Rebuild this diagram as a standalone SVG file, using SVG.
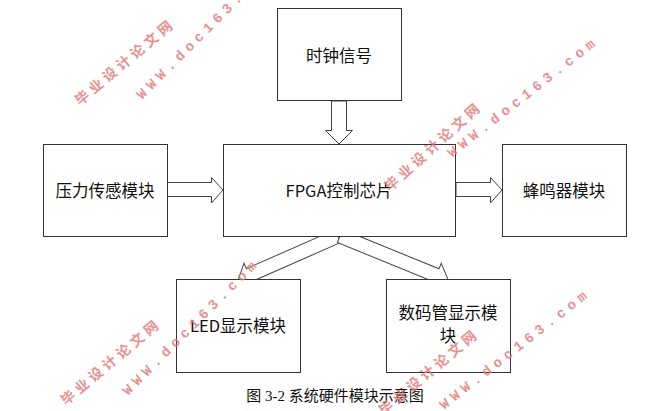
<svg xmlns="http://www.w3.org/2000/svg" width="665" height="411" viewBox="0 0 665 411">
<style>
.box{fill:#fff;stroke:#333;stroke-width:1}
.arr{fill:#fff;stroke:#444;stroke-width:1;stroke-linejoin:miter}
.lbl{font-family:"Noto Sans CJK SC","Liberation Sans",sans-serif;font-size:16.5px;fill:#111;text-anchor:middle;dominant-baseline:central}
.cap{font-family:"Liberation Serif","Noto Sans CJK SC",serif;font-size:15px;fill:#111;text-anchor:middle}
.wmc{font-family:"Noto Sans CJK SC",sans-serif;font-size:14px;font-weight:bold;fill:#e27878;letter-spacing:4px;opacity:0.8}
.wml{font-family:"Liberation Mono",monospace;font-size:14px;font-weight:bold;fill:#e27878;letter-spacing:5px;opacity:0.8}
</style>
<rect width="665" height="411" fill="#fff"/>
<g id="connectors">
<polygon class="arr" points="331.5,101 346.5,101 346.5,130.5 352.5,130.5 339,144 325.5,130.5 331.5,130.5"/>
<polygon class="arr" points="167,182.5 211.5,182.5 211.5,177.5 223,190 211.5,203 211.5,196.5 167,196.5"/>
<polygon class="arr" points="456,182.5 490.5,182.5 490.5,177.5 502,190 490.5,203 490.5,196.5 456,196.5"/>
<polygon class="arr" transform="translate(338 236) rotate(156.25)" points="0,-7 97,-7 97,-13 109,0 97,13 97,7 0,7"/>
<polygon class="arr" transform="translate(340 236) rotate(22.17)" points="0,-7 104,-7 104,-13 117,0 104,13 104,7 0,7"/>
</g>
<g id="clock">
<rect class="box" x="277.5" y="8.5" width="124" height="92"/>
<text class="lbl" x="339" y="55">时钟信号</text>
</g>
<g id="pressure">
<rect class="box" x="43.5" y="144.5" width="124" height="92"/>
<text class="lbl" x="105" y="190">压力传感模块</text>
</g>
<g id="fpga">
<rect class="box" x="223.5" y="144.5" width="232" height="92"/>
<text class="lbl" x="339" y="190">FPGA控制芯片</text>
</g>
<g id="buzzer">
<rect class="box" x="502.5" y="144.5" width="124" height="92"/>
<text class="lbl" x="564" y="190">蜂鸣器模块</text>
</g>
<g id="led">
<rect class="box" x="176.5" y="279.5" width="124" height="93"/>
<text class="lbl" x="238" y="325">LED显示模块</text>
</g>
<g id="seg">
<rect class="box" x="386.5" y="279.5" width="124" height="93"/>
<text class="lbl" x="448" y="312">数码管显示模</text>
<text class="lbl" x="448" y="335">块</text>
</g>
<g id="caption">
<text class="cap" x="335" y="401">图 3-2 系统硬件模块示意图</text>
</g>
<g id="watermarks">
<text class="wmc" x="80" y="106" transform="rotate(-40 80 106)">毕业设计论文网</text>
<text class="wml" x="142" y="100" transform="rotate(-45 142 100)">WWW.doc163.com</text>
<text class="wmc" x="390" y="192" transform="rotate(-42 390 192)">毕业设计论文网</text>
<text class="wml" x="452" y="158" transform="rotate(-38 452 158)">WWW.doc163.com</text>
<text class="wmc" x="66" y="406" transform="rotate(-40 66 406)">毕业设计论文网</text>
<text class="wml" x="128" y="396" transform="rotate(-45 128 396)">WWW.doc163.com</text>
<text class="wmc" x="384" y="416" transform="rotate(-40 384 416)">毕业设计论文网</text>
<text class="wml" x="444" y="410" transform="rotate(-38 444 410)">WWW.doc163.com</text>
</g>
</svg>
